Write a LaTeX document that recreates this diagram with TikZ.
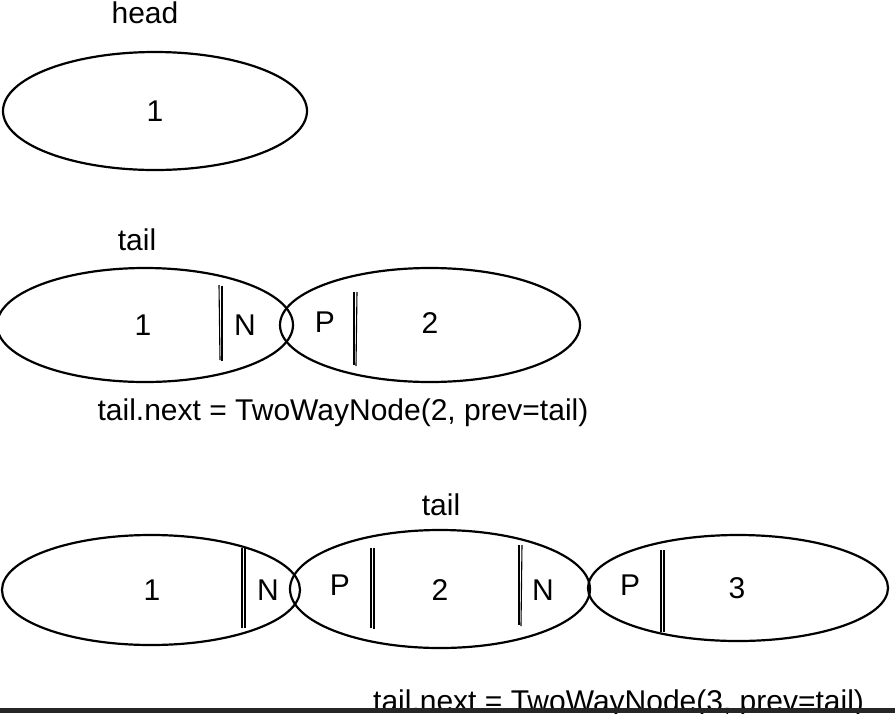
\documentclass[tikz,border=0pt]{standalone}
\usepackage{fontspec}
\setmainfont{Liberation Sans}
\usetikzlibrary{shapes.geometric}
\usetikzlibrary{calc}

\begin{document}
\begin{tikzpicture}[x=1pt,y=-1pt]

		\tikzstyle{cell}  = [ellipse, draw, line width=2.2pt, inner sep=0pt]
		\tikzstyle{txt}   = [font=\fontsize{30}{34}\selectfont, inner sep=0pt]
		\tikzstyle{wall}  = [line width=1.1pt]
		\useasboundingbox (0,0) rectangle (895,713);
		\clip (0,0) rectangle (895,713);

		% head alone
		\node [cell, minimum width=304, minimum height=118](h1) at (155,111) {};
		\node [txt](h1v) at (h1) {1};
		\node [txt](head) at (145,13) {head};

		% two nodes
		\node [cell, minimum width=296, minimum height=114](a1) at (145,325) {};
		\node [cell, minimum width=300, minimum height=114](a2) at (430,325) {};
		\node [txt](a1v) at (143,325) {1};
		\node [txt](a1n) at (245,325) {N};
		\node [txt](a2p) at (325,322) {P};
		\node [txt](a2v) at (430,323) {2};
		\draw [wall] (219,285) -- (220,360);
		\draw [wall] (222,286) -- (222,361);
		\draw [wall] (354,292) -- (354,365);
		\draw [wall] (357,292) -- (356,366);
		\node [txt](atail) at (137,240) {tail};
		\node [txt](acode) at (343,413) {tail.next = TwoWayNode(2, prev=tail)};

		% three nodes
		\node [cell, minimum width=298, minimum height=110](b1) at (151,590) {};
		\node [cell, minimum width=300, minimum height=118](b2) at (440,589) {};
		\node [cell, minimum width=300, minimum height=106](b3) at (738,588) {};
		\node [txt](b1v) at (152,590) {1};
		\node [txt](b1n) at (268,590) {N};
		\node [txt](b2p) at (340,585) {P};
		\node [txt](b2v) at (440,590) {2};
		\node [txt](b2n) at (543,590) {N};
		\node [txt](b3p) at (630,585) {P};
		\node [txt](b3v) at (737,588) {3};
		\draw [wall] (242,548) -- (242,628);
		\draw [wall] (245,547) -- (245,628);
		\draw [wall] (371,548) -- (371,628);
		\draw [wall] (374,548) -- (374,629);
		\draw [wall] (519,545) -- (519,625);
		\draw [wall] (522,545) -- (521,626);
		\draw [wall] (661,550) -- (661,632);
		\draw [wall] (664,550) -- (664,632);
		\node [txt](btail) at (441,505) {tail};
		\node [txt, anchor=west](bcode) at (373,704) {tail.next = TwoWayNode(3, prev=tail)};

		\fill [black!85] (0,708) rectangle (895,713);

	\end{tikzpicture}
\end{document}
